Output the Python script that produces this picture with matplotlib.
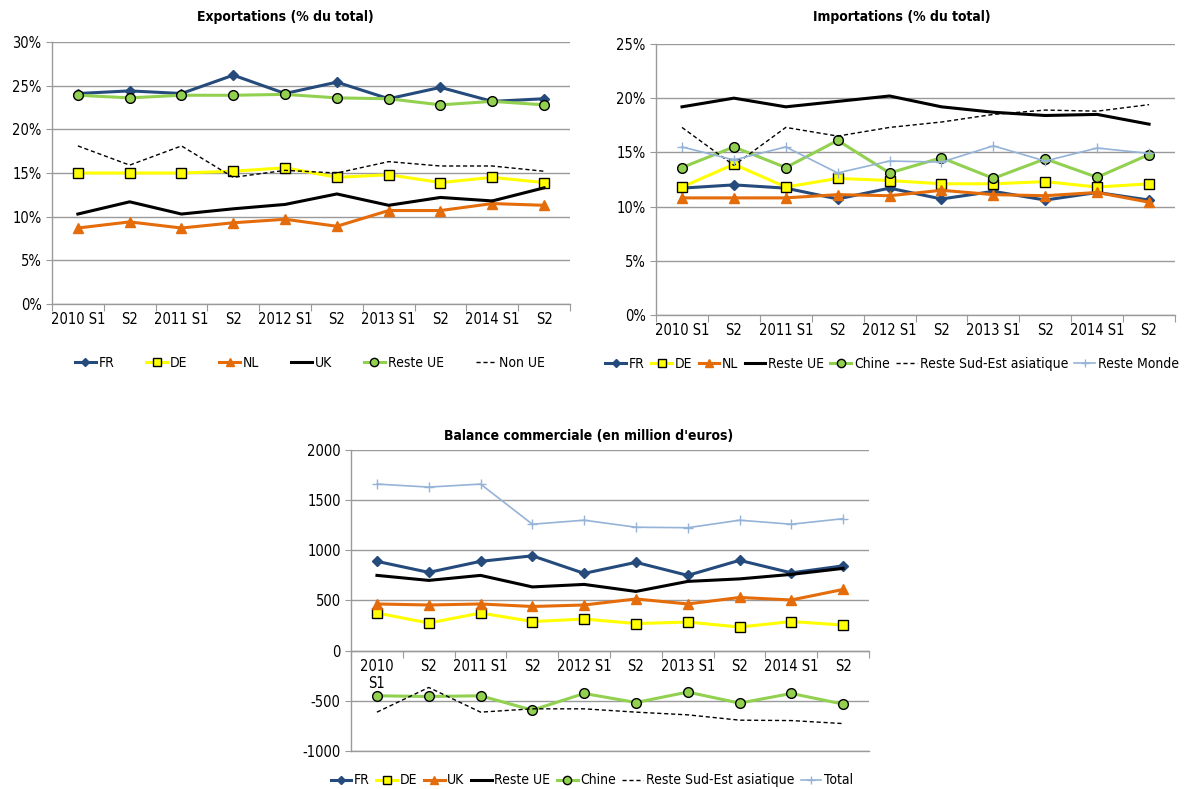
import matplotlib
matplotlib.use("Agg")
import matplotlib.pyplot as plt
from matplotlib.ticker import FixedLocator, PercentFormatter

plt.rcParams['font.family'] = ['Liberation Sans Narrow', 'DejaVu Sans']
plt.rcParams['font.stretch'] = 'condensed'
plt.rcParams['font.size'] = 10
plt.rcParams['axes.unicode_minus'] = False

periodes = ['2010 S1', 'S2', '2011 S1', 'S2', '2012 S1', 'S2', '2013 S1', 'S2', '2014 S1', 'S2']

# Exportations (% du total)
exp_fr = [24.1, 24.4, 24.1, 26.2, 24.1, 25.4, 23.5, 24.8, 23.2, 23.5]
exp_de = [15.0, 15.0, 15.0, 15.2, 15.6, 14.5, 14.8, 13.9, 14.5, 13.9]
exp_nl = [8.7, 9.4, 8.7, 9.3, 9.7, 8.9, 10.7, 10.7, 11.5, 11.3]
exp_uk = [10.3, 11.7, 10.3, 10.9, 11.4, 12.6, 11.3, 12.2, 11.8, 13.3]
exp_reste_ue = [23.9, 23.6, 23.9, 23.9, 24.0, 23.6, 23.5, 22.8, 23.2, 22.8]
exp_non_ue = [18.1, 15.9, 18.1, 14.5, 15.3, 15.0, 16.3, 15.8, 15.8, 15.2]

# Importations (% du total)
imp_fr = [11.7, 12.0, 11.7, 10.7, 11.7, 10.7, 11.4, 10.6, 11.3, 10.6]
imp_de = [11.8, 13.9, 11.8, 12.6, 12.4, 12.1, 12.1, 12.3, 11.8, 12.1]
imp_nl = [10.8, 10.8, 10.8, 11.1, 11.0, 11.5, 11.1, 11.0, 11.3, 10.4]
imp_reste_ue = [19.2, 20.0, 19.2, 19.7, 20.2, 19.2, 18.7, 18.4, 18.5, 17.6]
imp_chine = [13.6, 15.5, 13.6, 16.1, 13.1, 14.5, 12.6, 14.4, 12.7, 14.8]
imp_sud_est = [17.3, 13.8, 17.3, 16.5, 17.3, 17.8, 18.5, 18.9, 18.8, 19.4]
imp_monde = [15.5, 14.3, 15.5, 13.1, 14.2, 14.1, 15.6, 14.2, 15.4, 14.9]

# Balance commerciale (en million d'euros)
bal_fr = [890, 780, 890, 945, 770, 880, 750, 900, 775, 845]
bal_de = [375, 275, 375, 290, 315, 270, 285, 235, 290, 255]
bal_uk = [465, 455, 465, 440, 455, 515, 465, 530, 505, 610]
bal_reste_ue = [750, 700, 750, 635, 660, 590, 690, 715, 760, 820]
bal_chine = [-450, -457, -450, -593, -427, -517, -413, -523, -427, -533]
bal_sud_est = [-613, -367, -613, -580, -580, -613, -640, -693, -697, -727]
bal_total = [1660, 1630, 1660, 1260, 1300, 1230, 1225, 1300, 1260, 1315]

BLEU = '#254A7C'
JAUNE = '#FFFF00'
ORANGE = '#E46C0A'
VERT = '#92D050'
BLEU_CLAIR = '#95B3D7'
GRIS = '#9a9a9a'

styles = {
    'FR': dict(color=BLEU, lw=2.2, marker='D', ms=5, mfc=BLEU, mec=BLEU),
    'DE': dict(color=JAUNE, lw=2.2, marker='s', ms=7, mfc=JAUNE, mec='black', mew=1),
    'NL': dict(color=ORANGE, lw=2.2, marker='^', ms=7, mfc=ORANGE, mec=ORANGE),
    'UK_noir': dict(color='black', lw=2.2),
    'vert': dict(color=VERT, lw=2.2, marker='o', ms=7, mfc=VERT, mec='black', mew=1),
    'tirets': dict(color='black', lw=1.0, ls=(0, (3, 2))),
    'plus': dict(color=BLEU_CLAIR, lw=1.2, marker='+', ms=7, mew=1),
}

x = list(range(len(periodes)))

fig = plt.figure(figsize=(11.84, 7.89), dpi=100)


def base_axes(ax, ymin, ymax, step, labels, pct=True):
    ax.set_xlim(-0.5, len(labels) - 0.5)
    ax.set_ylim(ymin, ymax)
    ticks = []
    v = ymin
    while v <= ymax + 1e-9:
        ticks.append(v)
        v += step
    ax.set_yticks(ticks)
    if pct:
        ax.yaxis.set_major_formatter(PercentFormatter(decimals=0))
    ax.xaxis.set_major_locator(FixedLocator([i - 0.5 for i in range(len(labels) + 1)]))
    ax.xaxis.set_minor_locator(FixedLocator(list(range(len(labels)))))
    ax.set_xticklabels([], minor=False)
    ax.set_xticklabels(labels, minor=True)
    ax.tick_params(axis='x', which='major', length=5, color=GRIS, direction='out')
    ax.tick_params(axis='x', which='minor', length=0, pad=6, labelsize=10.5)
    ax.tick_params(axis='y', length=4, color=GRIS, labelsize=10.5)
    for s in ['top', 'right']:
        ax.spines[s].set_visible(False)
    for s in ['left', 'bottom']:
        ax.spines[s].set_color(GRIS)
        ax.spines[s].set_linewidth(1.0)
    ax.grid(axis='y', color=GRIS, lw=1.0)
    ax.set_axisbelow(True)


leg_kw = dict(loc='center', frameon=False, fontsize=10, handlelength=1.5,
              handletextpad=0.2, borderaxespad=0, markerscale=0.85)

# --- Exportations ---
ax1 = fig.add_axes([0.0439, 0.6147, 0.4375, 0.3321])
base_axes(ax1, 0, 30, 5, periodes)
ax1.plot(x, exp_fr, label='FR', **styles['FR'])
ax1.plot(x, exp_de, label='DE', **styles['DE'])
ax1.plot(x, exp_nl, label='NL', **styles['NL'])
ax1.plot(x, exp_uk, label='UK', **styles['UK_noir'])
ax1.plot(x, exp_reste_ue, label='Reste UE', **styles['vert'])
ax1.plot(x, exp_non_ue, label='Non UE', **styles['tirets'])
fig.text(0.2407, 0.978, 'Exportations (% du total)', ha='center', va='center',
         fontsize=10, fontweight='bold')
ax1.legend(bbox_to_anchor=(0.498, -0.226), ncol=6, columnspacing=2.3, **leg_kw)

# --- Importations ---
ax2 = fig.add_axes([0.5541, 0.6008, 0.4383, 0.3435])
base_axes(ax2, 0, 25, 5, periodes)
ax2.plot(x, imp_fr, label='FR', **styles['FR'])
ax2.plot(x, imp_de, label='DE', **styles['DE'])
ax2.plot(x, imp_nl, label='NL', **styles['NL'])
ax2.plot(x, imp_reste_ue, label='Reste UE', **styles['UK_noir'])
ax2.plot(x, imp_chine, label='Chine', **styles['vert'])
ax2.plot(x, imp_sud_est, label='Reste Sud-Est asiatique', **styles['tirets'])
ax2.plot(x, imp_monde, label='Reste Monde', **styles['plus'])
fig.text(0.7618, 0.978, 'Importations (% du total)', ha='center', va='center',
         fontsize=10, fontweight='bold')
ax2.legend(bbox_to_anchor=(0.455, -0.18), ncol=7, columnspacing=0.45, **leg_kw)

# --- Balance commerciale ---
periodes_bal = ['2010\nS1'] + periodes[1:]
ax3 = fig.add_axes([0.2965, 0.0482, 0.4375, 0.3815])
base_axes(ax3, -1000, 2000, 500, periodes_bal, pct=False)
ax3.spines['bottom'].set_position(('data', 0))
ax3.axhline(-1000, color=GRIS, lw=1.0, clip_on=False, zorder=0)
ax3.plot(x, bal_fr, label='FR', **styles['FR'])
ax3.plot(x, bal_de, label='DE', **styles['DE'])
ax3.plot(x, bal_uk, label='UK', **styles['NL'])
ax3.plot(x, bal_reste_ue, label='Reste UE', **styles['UK_noir'])
ax3.plot(x, bal_chine, label='Chine', **styles['vert'])
ax3.plot(x, bal_sud_est, label='Reste Sud-Est asiatique', **styles['tirets'])
ax3.plot(x, bal_total, label='Total', **styles['plus'])
fig.text(0.4975, 0.447, "Balance commerciale (en million d'euros)", ha='center', va='center',
         fontsize=10, fontweight='bold')
ax3.legend(bbox_to_anchor=(0.465, -0.098), ncol=7, columnspacing=0.45, **leg_kw)

fig.savefig('out.png', dpi=100)
